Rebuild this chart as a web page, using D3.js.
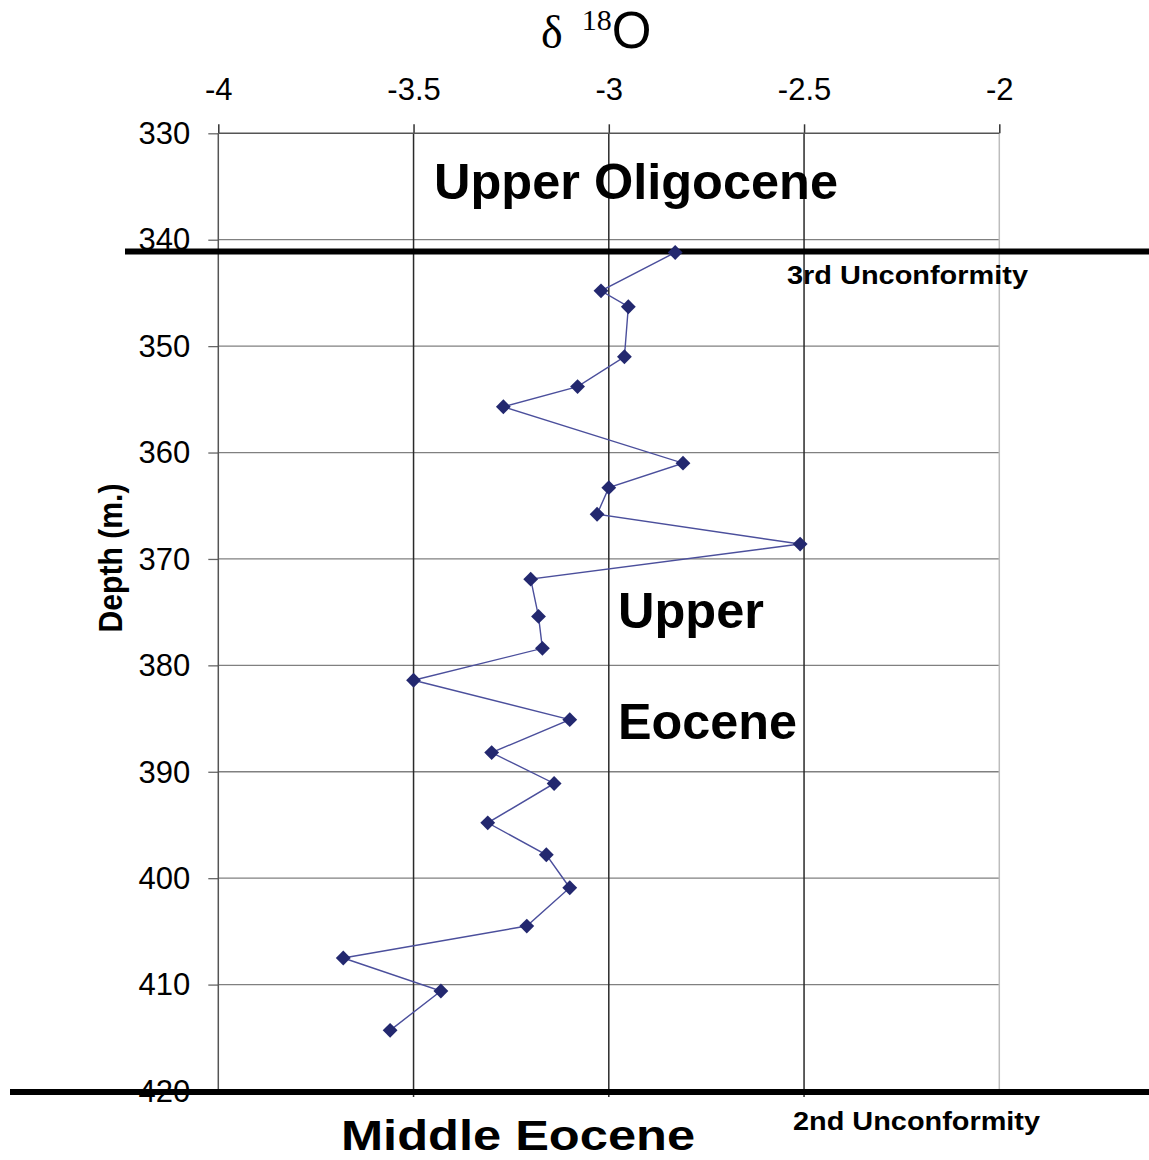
<!DOCTYPE html>
<html lang="en">
<head>
    <meta charset="UTF-8">
    <script src="https://d3js.org/d3.v7.min.js"></script>
    <title>d18O vs depth</title>
    <style>
        body { margin: 0; background: #fff; }
        text { font-family: "Liberation Sans", Arial, sans-serif; fill: #000; }
        .lbl { font-weight: bold; }
    </style>
</head>
<body>
    <div id="chart"></div>
    <script>
// data
var depth = [341.2, 344.8, 346.3, 351.0, 353.8, 355.7, 361.0, 363.3, 365.8, 368.6, 371.9, 375.4,
             378.4, 381.4, 385.1, 388.2, 391.1, 394.8, 397.8, 400.9, 404.5, 407.5, 410.6, 414.3];
var d18O = [-2.83, -3.02, -2.95, -2.96, -3.08, -3.27, -2.81, -3.0, -3.03, -2.51, -3.2, -3.18,
            -3.17, -3.5, -3.1, -3.3, -3.14, -3.31, -3.16, -3.1, -3.21, -3.68, -3.43, -3.56];
var xTicks = [-4, -3.5, -3, -2.5, -2];
var yTicks = [330, 340, 350, 360, 370, 380, 390, 400, 410, 420];
var unconformities = [341.1, 420.1];

var width = 1149, height = 1160;

var x = d3.scaleLinear().domain([-4, -2]).range([218.3, 999.3]);
var y = d3.scaleLinear().domain([330, 420]).range([133.3, 1091]);

var svg = d3.select('#chart').append('svg')
    .attr('width', width)
    .attr('height', height);

// horizontal grid
svg.selectAll('.hgrid')
    .data(yTicks.slice(1, -1))
    .enter().append('line')
        .attr('x1', x(-4)).attr('x2', x(-2))
        .attr('y1', d => y(d)).attr('y2', d => y(d))
        .attr('stroke', '#808080').attr('stroke-width', 1.3);

// vertical grid
svg.selectAll('.vgrid')
    .data(xTicks.slice(1))
    .enter().append('line')
        .attr('x1', d => x(d)).attr('x2', d => x(d))
        .attr('y1', y(330)).attr('y2', d => d === -2 ? y(420) : y(420) + 6)
        .attr('stroke', d => d === -2 ? '#bdbdbd' : '#2a2a2a')
        .attr('stroke-width', 1.5);

// top x axis
var xAxis = d3.axisTop(x).tickValues(xTicks).tickSize(9).tickFormat(d => String(d));
var gx = svg.append('g').attr('transform', 'translate(0,' + y(330) + ')').call(xAxis);
gx.select('.domain').remove();
gx.append('line').attr('x1', x(-4)).attr('x2', x(-2)).attr('stroke', '#555').attr('stroke-width', 1.5);
gx.selectAll('.tick line').attr('stroke', '#333').attr('stroke-width', 1.5);
gx.selectAll('.tick text')
    .attr('fill', '#000')
    .style('font-size', '31px')
    .style('font-family', '"Liberation Sans", Arial, sans-serif')
    .attr('dy', 0)
    .attr('y', -33);

// left y axis
var yAxis = d3.axisLeft(y).tickValues(yTicks).tickSize(10).tickPadding(18);
var gy = svg.append('g').attr('transform', 'translate(' + x(-4) + ',0)').call(yAxis);
gy.select('.domain').remove();
gy.append('line').attr('y1', y(330)).attr('y2', y(420)).attr('stroke', '#555').attr('stroke-width', 1.5);
gy.selectAll('.tick line').attr('stroke', '#666').attr('stroke-width', 1.3);
gy.selectAll('.tick text')
    .attr('fill', '#000')
    .style('font-size', '31px')
    .style('font-family', '"Liberation Sans", Arial, sans-serif')
    .attr('dy', '0.33em');

// thick unconformity lines
svg.selectAll('.unc')
    .data(unconformities)
    .enter().append('line')
        .attr('x1', (d, i) => i === 0 ? 125 : 10)
        .attr('x2', width)
        .attr('y1', d => y(d)).attr('y2', d => y(d))
        .attr('stroke', '#000').attr('stroke-width', 6);

// series
var pts = depth.map((d, i) => ({ depth: d, v: d18O[i] }));
var line = d3.line().x(d => x(d.v)).y(d => y(d.depth));
svg.append('path')
    .datum(pts)
    .attr('d', line)
    .attr('fill', 'none')
    .attr('stroke', '#4b4f9c')
    .attr('stroke-width', 1.4);

svg.selectAll('.pt')
    .data(pts)
    .enter().append('path')
        .attr('d', d3.symbol().type(d3.symbolDiamond2).size(140))
        .attr('transform', d => 'translate(' + x(d.v) + ',' + y(d.depth) + ')')
        .attr('fill', '#23286f');

// title
var title = svg.append('text').attr('x', 541).attr('y', 48);
title.append('tspan').text('δ').style('font-family', '"Liberation Serif", serif').style('font-size', '46px');
title.append('tspan').text('18').style('font-family', '"Liberation Serif", serif').style('font-size', '30px').attr('dx', 19).attr('dy', -18);
title.append('tspan').text('O').style('font-family', '"Liberation Sans", sans-serif').style('font-size', '51px').attr('dy', 18);

// axis label
svg.append('text')
    .attr('class', 'lbl')
    .attr('transform', 'translate(122,558) rotate(-90)')
    .attr('text-anchor', 'middle')
    .attr('textLength', 149)
    .attr('lengthAdjust', 'spacingAndGlyphs')
    .style('font-size', '33px')
    .text('Depth (m.)');

// annotations
var notes = [
    { t: 'Upper Oligocene', x: 434, y: 199, s: 50, w: 404 },
    { t: '3rd Unconformity', x: 787, y: 284, s: 25, w: 241 },
    { t: 'Upper', x: 618, y: 628, s: 50, w: 146 },
    { t: 'Eocene', x: 618, y: 739, s: 50, w: 179 },
    { t: 'Middle Eocene', x: 341, y: 1150, s: 42, w: 354 },
    { t: '2nd Unconformity', x: 793, y: 1130, s: 25, w: 247 }
];
svg.selectAll('.note')
    .data(notes)
    .enter().append('text')
        .attr('class', 'lbl')
        .attr('x', d => d.x).attr('y', d => d.y)
        .attr('textLength', d => d.w)
        .attr('lengthAdjust', 'spacingAndGlyphs')
        .style('font-size', d => d.s + 'px')
        .text(d => d.t);
    </script>
</body>
</html>
